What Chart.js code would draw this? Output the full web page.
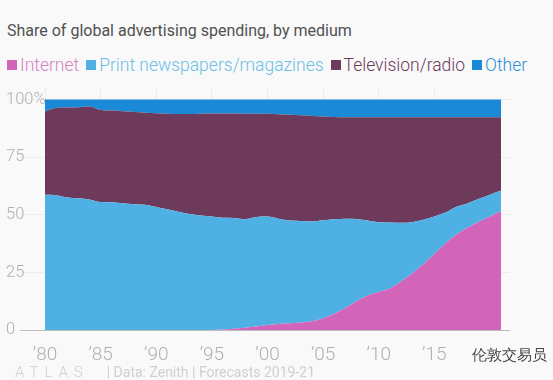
<!DOCTYPE html>
<html>
<head>
<meta charset="utf-8">
<script src="https://cdn.jsdelivr.net/npm/chart.js@4/dist/chart.umd.min.js"></script>
<style>
  html, body { margin: 0; padding: 0; background: #f9f9f9; }
  body { width: 553px; height: 380px; position: relative; overflow: hidden; font-family: Roboto, "Noto Sans", sans-serif; }
  #title { position: absolute; left: 7px; top: 21px; font-size: 16px; color: #505050; font-weight: 400; white-space: nowrap; }
  #legend { position: absolute; left: 7px; top: 55px; font-size: 17.5px; white-space: nowrap; font-weight: 300; }
  #legend span.item { margin-right: 7px; }
  #legend i { display: inline-block; width: 10px; height: 10px; margin-right: 3px; vertical-align: 1px; }
  #footer { position: absolute; left: 15px; top: 363px; font-size: 14px; color: #cfcfcf; white-space: nowrap; }
  #footer .atlas { letter-spacing: 6px; font-size: 15px; font-weight: 300; margin-right: 18px; }
  #mark { position: absolute; left: 472px; top: 346px; font-size: 14.5px; color: #444; white-space: nowrap; }
  canvas { position: absolute; left: 0; top: 0; }
</style>
</head>
<body>
<div id="title">Share of global advertising spending, by medium</div>
<div id="legend"></div>
<canvas id="chart" width="553" height="380"></canvas>
<div id="footer"><span class="atlas">ATLAS</span>| Data: Zenith | Forecasts 2019-21</div>
<div id="mark">伦敦交易员</div>
<script>
const years = [1980,1981,1982,1983,1984,1985,1986,1987,1988,1989,1990,1991,1992,1993,1994,1995,1996,1997,1998,1999,2000,2001,2002,2003,2004,2005,2006,2007,2008,2009,2010,2011,2012,2013,2014,2015,2016,2017,2018,2019,2020,2021];

const internet = [0,0,0,0,0,0,0,0,0,0,0,0,0,0,0,0,0.2,0.5,1.0,1.5,2.2,2.6,2.9,3.2,3.8,5.0,7.0,9.5,12.5,15.0,16.5,18.0,21.0,24.5,28.5,33.0,37.5,41.5,44.5,47.0,49.3,51.5];
const print = [58.7,58.5,57.5,57.2,56.6,55.5,55.4,55.0,54.6,54.3,53.4,52.4,51.3,50.3,49.7,49.2,48.5,48.1,47.1,47.5,47.0,45.7,44.6,44.1,43.3,42.6,41.0,38.8,35.7,32.5,30.3,28.6,25.5,22.3,19.3,16.3,13.5,12.0,10.5,10.0,9.4,9.0];
const tvRadio = [36.1,37.8,39.0,39.5,40.4,40.0,39.8,39.9,40.0,40.0,40.6,41.4,42.4,43.4,44.1,44.7,45.2,45.3,45.7,44.8,44.6,45.3,45.9,45.9,45.8,45.0,44.4,44.0,44.1,44.8,45.5,45.7,45.8,45.5,44.5,43.0,41.3,38.8,37.3,35.3,33.6,31.8];
const other = [5.2,3.7,3.5,3.3,3.0,4.5,4.8,5.1,5.4,5.7,6.0,6.2,6.3,6.3,6.2,6.1,6.1,6.1,6.2,6.2,6.2,6.4,6.6,6.8,7.1,7.4,7.6,7.7,7.7,7.7,7.7,7.7,7.7,7.7,7.7,7.7,7.7,7.7,7.7,7.7,7.7,7.7];

const seriesNames = ['Internet', 'Print newspapers/magazines', 'Television/radio', 'Other'];
const seriesColors = ['#d264b9', '#4fb1e3', '#6d3a5b', '#1a8ad6'];
const legendTextColors = ['#d77ec6', '#6cbde6', '#6d3a5b', '#2a8fd6'];
const yTicks = [0, 25, 50, 75, 100];
const xTicks = [1980, 1985, 1990, 1995, 2000, 2005, 2010, 2015];

// html legend
const legend = document.getElementById('legend');
seriesNames.forEach((name, i) => {
  const s = document.createElement('span');
  s.className = 'item';
  s.style.color = legendTextColors[i];
  s.innerHTML = '<i style="background:' + seriesColors[i] + '"></i>' + name;
  legend.appendChild(s);
});

const toPoints = arr => arr.map((v, i) => ({ x: years[i], y: v }));
const allSeries = [internet, print, tvRadio, other];

const ctx = document.getElementById('chart').getContext('2d');
new Chart(ctx, {
  type: 'line',
  data: {
    datasets: allSeries.map((arr, i) => ({
      label: seriesNames[i],
      data: toPoints(arr),
      backgroundColor: seriesColors[i],
      borderColor: seriesColors[i],
      borderWidth: 0,
      pointRadius: 0,
      fill: i === 0 ? 'origin' : '-1',
      tension: 0.3,
      cubicInterpolationMode: 'monotone'
    }))
  },
  options: {
    responsive: false,
    animation: false,
    layout: { padding: { top: 88, left: 6, right: 43, bottom: 0 } },
    plugins: { legend: { display: false }, tooltip: { enabled: false } },
    scales: {
      x: {
        type: 'linear',
        min: 1980,
        max: 2021.8,
        afterBuildTicks: axis => { axis.ticks = xTicks.map(v => ({ value: v })); },
        afterFit: axis => { axis.height = 50; },
        ticks: {
          color: '#b0b0b0',
          font: { family: 'Roboto', size: 19, weight: 300 },
          padding: 14,
          maxRotation: 0,
          callback: v => '\u2019' + String(v).slice(2)
        },
        grid: { color: '#ececec', drawTicks: false },
        border: { display: false }
      },
      y: {
        stacked: true,
        min: 0,
        max: 105,
        afterBuildTicks: axis => { axis.ticks = yTicks.map(v => ({ value: v })); },
        afterFit: axis => { axis.width = 39; },
        ticks: {
          color: '#b0b0b0',
          font: { family: 'Roboto', size: 16.5, weight: 300 },
          crossAlign: 'far',
          padding: 0,
          callback: v => v === 100 ? '100%' : String(v)
        },
        grid: {
          color: c => c.tick && c.tick.value === 0 ? '#bdbdbd' : '#ececec',
          tickLength: 25
        },
        border: { display: false }
      }
    }
  }
});
</script>
</body>
</html>
